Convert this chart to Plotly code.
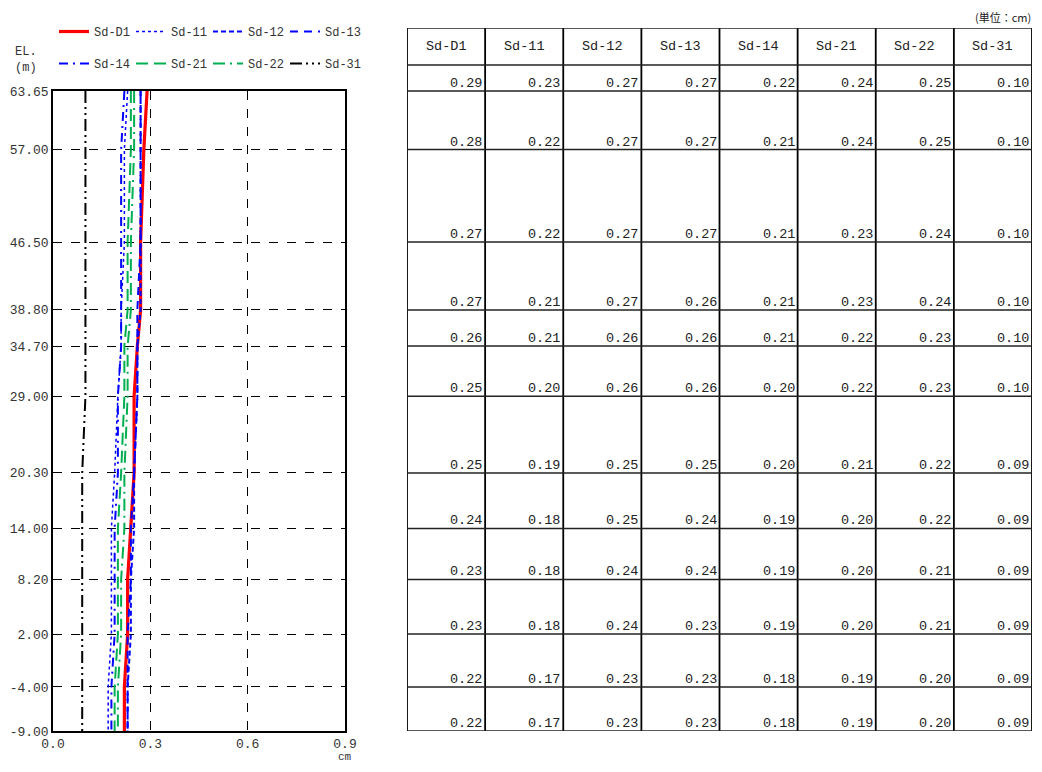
import plotly.graph_objects as go

# ---------------- data ----------------
elevations = [63.65, 57.00, 46.50, 38.80, 34.70, 29.00, 20.30, 14.00, 8.20, 2.00, -4.00, -9.00]
series_names = ["Sd-D1", "Sd-11", "Sd-12", "Sd-13", "Sd-14", "Sd-21", "Sd-22", "Sd-31"]

sd_d1 = [0.29, 0.28, 0.27, 0.27, 0.26, 0.25, 0.25, 0.24, 0.23, 0.23, 0.22, 0.22]
sd_11 = [0.23, 0.22, 0.22, 0.21, 0.21, 0.20, 0.19, 0.18, 0.18, 0.18, 0.17, 0.17]
sd_12 = [0.27, 0.27, 0.27, 0.27, 0.26, 0.26, 0.25, 0.25, 0.24, 0.24, 0.23, 0.23]
sd_13 = [0.27, 0.27, 0.27, 0.26, 0.26, 0.26, 0.25, 0.24, 0.24, 0.23, 0.23, 0.23]
sd_14 = [0.22, 0.21, 0.21, 0.21, 0.21, 0.20, 0.20, 0.19, 0.19, 0.19, 0.18, 0.18]
sd_21 = [0.24, 0.24, 0.23, 0.23, 0.22, 0.22, 0.21, 0.20, 0.20, 0.20, 0.19, 0.19]
sd_22 = [0.25, 0.25, 0.24, 0.24, 0.23, 0.23, 0.22, 0.22, 0.21, 0.21, 0.20, 0.20]
sd_31 = [0.10, 0.10, 0.10, 0.10, 0.10, 0.10, 0.09, 0.09, 0.09, 0.09, 0.09, 0.09]
series_values = [sd_d1, sd_11, sd_12, sd_13, sd_14, sd_21, sd_22, sd_31]

x_ticks = [0.0, 0.3, 0.6, 0.9]
x_ticklabels = ["0.0", "0.3", "0.6", "0.9"]
y_ticklabels = ["%.2f" % e for e in elevations]
unit_label = "(単位：cm)"

# ---------------- styles ----------------
OFF = 8  # page body margin
W, H = 1042 - 2 * OFF, 772 - 2 * OFF
FONT = "Liberation Mono, DejaVu Sans Mono, monospace"
CJK = "Noto Sans CJK JP"
styles = [
    dict(color="#FF0000", width=3.2, dash="solid"),
    dict(color="#0000FF", width=1.5, dash="dot"),
    dict(color="#0000FF", width=2, dash="5px,3px"),
    dict(color="#0000FF", width=2, dash="8px,6px"),
    dict(color="#0000FF", width=2, dash="9px,5px,2px,5px"),
    dict(color="#00B050", width=2, dash="12px,6px"),
    dict(color="#00B050", width=2, dash="12px,5px,2px,5px"),
    dict(color="#000000", width=2, dash="12px,4px,2px,4px,2px,4px"),
]


def px(v):
    return v - OFF


# pixel layout (window coordinates, converted to figure coordinates)
plot_l, plot_r, plot_t, plot_b = px(53), px(345), px(91), px(731)
tab_l, tab_t, tab_hdr = px(407), px(28), px(65)
tab_r = min(px(1037), W - 2)
ymin, ymax = min(elevations), max(elevations)
px_per_m = (plot_b - plot_t) / (ymax - ymin)
tab_top_val = ymin + (plot_b - tab_t) / px_per_m
tab_hdr_val = ymin + (plot_b - tab_hdr) / px_per_m

fig = go.Figure()

for i, (name, vals, st) in enumerate(zip(series_names, series_values, styles)):
    fig.add_trace(go.Scatter(
        x=vals, y=elevations, mode="lines", name=name,
        line=st, xaxis="x", yaxis="y",
        legend="legend" if i < 4 else "legend2",
    ))

shapes = []
annotations = []
ncol = len(series_names)
# table vertical lines
for c in range(ncol + 1):
    shapes.append(dict(type="line", xref="x2", yref="y2", x0=c, x1=c,
                       y0=ymin, y1=tab_top_val, line=dict(color="black", width=1.8)))
# table horizontal lines
for yv in [tab_top_val, tab_hdr_val] + elevations:
    shapes.append(dict(type="line", xref="x2", yref="y2", x0=0, x1=ncol,
                       y0=yv, y1=yv, line=dict(color="#222", width=1.5)))
# header + values
for c, name in enumerate(series_names):
    annotations.append(dict(xref="x2", yref="y2", x=c + 0.5, y=(tab_top_val + tab_hdr_val) / 2,
                            text=name, showarrow=False, font=dict(family=FONT, size=13.5, color="#222")))
    for e, v in zip(elevations, series_values[c]):
        annotations.append(dict(xref="x2", yref="y2", x=c + 1, y=e, text="%.2f" % v,
                                xanchor="right", yanchor="bottom", xshift=-1, yshift=-2,
                                showarrow=False, font=dict(family=FONT, size=13.5, color="#222")))

annotations.append(dict(xref="paper", yref="paper", x=tab_r / W, y=1.0, text=unit_label,
                        xanchor="right", yanchor="top", showarrow=False, borderpad=0,
                        font=dict(family=CJK, size=11, color="#222")))
annotations.append(dict(xref="paper", yref="paper", x=px(26) / W, y=1 - px(60) / H, text="EL.<br>(m)",
                        xanchor="center", yanchor="middle", showarrow=False,
                        font=dict(family=FONT, size=12, color="#333")))
annotations.append(dict(xref="paper", yref="paper", x=plot_r / W, y=0.0, text="cm",
                        xanchor="center", yanchor="bottom", showarrow=False, borderpad=0,
                        font=dict(family=FONT, size=11, color="#333")))

axis_common = dict(showline=True, linecolor="black", linewidth=1.5, mirror=True,
                   showgrid=True, gridcolor="black", gridwidth=1, griddash="dash",
                   zeroline=False, ticks="", automargin=False,
                   tickfont=dict(family=FONT, size=13, color="#333"))

legend_common = dict(orientation="h", xanchor="left", yanchor="top",
                     entrywidth=32, entrywidthmode="pixels", itemwidth=30,
                     font=dict(family=FONT, size=12, color="#333"), bgcolor="rgba(0,0,0,0)")

fig.update_layout(
    width=W, height=H,
    margin=dict(l=0, r=0, t=0, b=0),
    paper_bgcolor="white", plot_bgcolor="white",
    xaxis=dict(domain=[plot_l / W, plot_r / W], range=[0, 0.9], tickvals=x_ticks,
               ticktext=x_ticklabels, **axis_common),
    yaxis=dict(domain=[1 - plot_b / H, 1 - plot_t / H], range=[ymin, ymax], tickvals=elevations,
               ticktext=y_ticklabels, **axis_common),
    xaxis2=dict(domain=[tab_l / W, tab_r / W], range=[0, ncol], visible=False, anchor="y2",
                automargin=False),
    yaxis2=dict(domain=[1 - plot_b / H, 1 - tab_t / H], range=[ymin, tab_top_val], visible=False,
                anchor="x2", automargin=False),
    shapes=shapes, annotations=annotations,
    legend=dict(x=px(54) / W, y=1 - px(17) / H, **legend_common),
    legend2=dict(x=px(54) / W, y=1 - px(49) / H, **legend_common),
    showlegend=True,
)

fig.write_html("out.html")
